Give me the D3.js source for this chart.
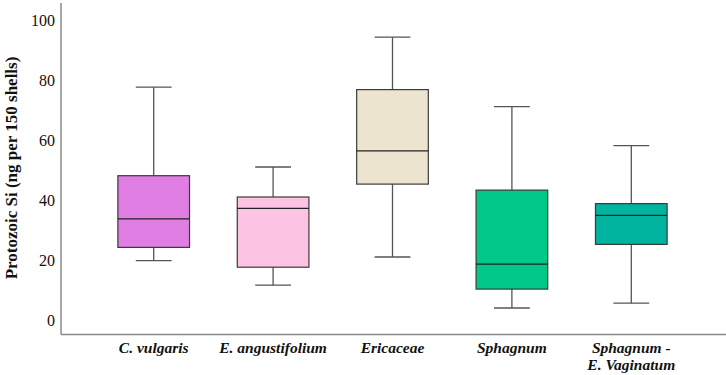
<!DOCTYPE html>
<html><head><meta charset="utf-8">
<script src="https://cdn.jsdelivr.net/npm/d3@7"></script>
<style>body{margin:0;background:#fff}svg{display:block}text{font-family:'Liberation Serif','Times New Roman',Times,'DejaVu Serif',serif}</style>
</head><body>
<svg id="c" width="726" height="375"></svg>
<script>
const categories = ["C. vulgaris", "E. angustifolium", "Ericaceae", "Sphagnum", "Sphagnum -\nE. Vaginatum"];
const whiskerMin = [19.8, 11.6, 21.0, 4.0, 5.6];
const q1 = [24.2, 17.6, 45.3, 10.3, 25.2];
const median = [33.7, 37.2, 56.4, 18.6, 34.9];
const q3 = [48.1, 41.0, 76.8, 43.3, 38.8];
const whiskerMax = [77.6, 51.0, 94.3, 71.1, 58.1];
const colors = ["#e07ee3", "#fdc3e3", "#ede4cf", "#00c987", "#00b4a0"];
const yTicks = [0, 20, 40, 60, 80, 100];
const yLabel = "Protozoic Si (ng per 150 shells)";

const svg = d3.select("#c");
const x = d3.scaleBand().domain(categories).range([94, 691]).paddingInner(0.4).paddingOuter(0.2);
const y = d3.scaleLinear().domain([0, 100]).range([320, 20]);

svg.append("line").attr("x1", 61).attr("x2", 61).attr("y1", 3).attr("y2", 334.5).attr("stroke", "#8a8a8a").attr("stroke-width", 1.5);
svg.append("line").attr("x1", 61).attr("x2", 726).attr("y1", 334.5).attr("y2", 334.5).attr("stroke", "#8a8a8a").attr("stroke-width", 1.5);

const yAxis = d3.axisLeft(y).tickValues(yTicks).tickSize(0).tickPadding(6);
const gy = svg.append("g").attr("transform", "translate(61,0)").call(yAxis);
gy.select(".domain").remove();
gy.attr("font-family", null);
gy.selectAll("text").attr("font-size", "16px").attr("fill", "#111");

svg.append("text").attr("transform", "translate(17,168) rotate(-90)")
  .attr("text-anchor", "middle")
  .attr("font-weight", "bold").attr("font-size", "17px").attr("fill", "#111").text(yLabel);

const data = categories.map((c, i) => ({c, lo: whiskerMin[i], q1: q1[i], med: median[i], q3: q3[i], hi: whiskerMax[i], col: colors[i]}));
const bw = x.bandwidth();
const g = svg.selectAll("g.box").data(data).join("g").attr("class", "box");
const cx = d => x(d.c) + bw / 2;
const capW = bw / 2;
g.append("line").attr("x1", cx).attr("x2", cx).attr("y1", d => y(d.hi)).attr("y2", d => y(d.q3)).attr("stroke", "#555").attr("stroke-width", 1.3);
g.append("line").attr("x1", cx).attr("x2", cx).attr("y1", d => y(d.q1)).attr("y2", d => y(d.lo)).attr("stroke", "#555").attr("stroke-width", 1.3);
g.append("line").attr("x1", d => cx(d) - capW / 2).attr("x2", d => cx(d) + capW / 2).attr("y1", d => y(d.hi)).attr("y2", d => y(d.hi)).attr("stroke", "#555").attr("stroke-width", 1.3);
g.append("line").attr("x1", d => cx(d) - capW / 2).attr("x2", d => cx(d) + capW / 2).attr("y1", d => y(d.lo)).attr("y2", d => y(d.lo)).attr("stroke", "#555").attr("stroke-width", 1.3);
g.append("rect").attr("x", d => x(d.c)).attr("width", bw).attr("y", d => y(d.q3)).attr("height", d => y(d.q1) - y(d.q3))
  .attr("fill", d => d.col).attr("stroke", "#3a3a3a").attr("stroke-width", 1.2);
g.append("line").attr("x1", d => x(d.c)).attr("x2", d => x(d.c) + bw).attr("y1", d => y(d.med)).attr("y2", d => y(d.med)).attr("stroke", "#222").attr("stroke-width", 1.3);

const lab = svg.selectAll("text.cat").data(categories).join("text").attr("class", "cat")
  .attr("x", d => x(d) + bw / 2).attr("y", 353).attr("text-anchor", "middle")
  .attr("font-weight", "bold").attr("font-style", "italic")
  .attr("font-size", "15.5px").attr("fill", "#111");
lab.each(function(d) {
  const lines = d.split("\n");
  const t = d3.select(this);
  lines.forEach((l, i) => t.append("tspan").attr("x", x(d) + bw / 2).attr("dy", i === 0 ? 0 : 17).text(l));
});
</script>
</body></html>
